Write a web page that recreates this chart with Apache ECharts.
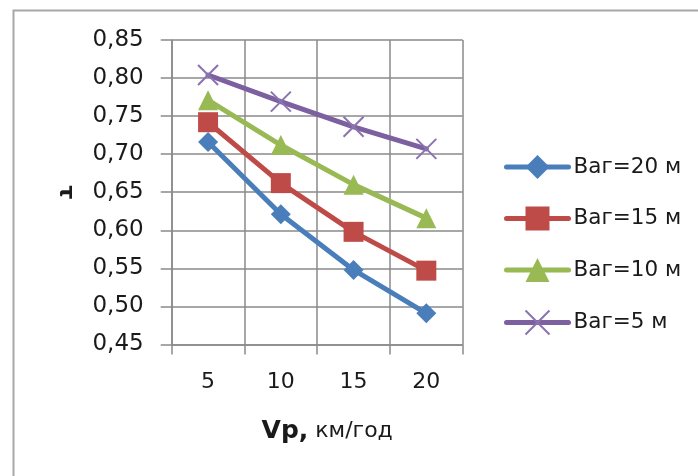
<!DOCTYPE html>
<html>
<head>
<meta charset="utf-8">
<script src="https://cdn.jsdelivr.net/npm/echarts@6/dist/echarts.min.js"></script>
<style>
  html, body { margin: 0; padding: 0; background: #ffffff; }
  #chart { width: 698px; height: 476px; }
</style>
</head>
<body>
<div id="chart"></div>
<script>
// ---- data ----
const categories = ['5', '10', '15', '20'];
const seriesNames = ['Ваг=20 м', 'Ваг=15 м', 'Ваг=10 м', 'Ваг=5 м'];
const vag20 = [0.716, 0.621, 0.548, 0.491];
const vag15 = [0.742, 0.662, 0.598, 0.547];
const vag10 = [0.771, 0.712, 0.660, 0.616];
const vag5  = [0.804, 0.769, 0.736, 0.707];
const yTickLabels = ['0,45', '0,50', '0,55', '0,60', '0,65', '0,70', '0,75', '0,80', '0,85'];
const xTitleMain = 'Vp,';
const xTitleUnit = 'км/год';
const yTitle = 'τ';

const FONT = 'DejaVu Sans';
const TXT = '#1a1a1a';
const GRID = '#8a8a8a';

const chart = echarts.init(document.getElementById('chart'), null, { renderer: 'canvas' });

function mkSeries(name, data, color, symbol, extra) {
  return Object.assign({
    name: name,
    type: 'line',
    data: data,
    symbol: symbol,
    symbolSize: 20,
    showAllSymbol: true,
    lineStyle: { color: color, width: 5, cap: 'round', join: 'round' },
    itemStyle: { color: color, borderWidth: 0 },
    emphasis: { disabled: true },
    animation: false
  }, extra || {});
}

const option = {
  animation: false,
  backgroundColor: '#ffffff',
  graphic: [{
    type: 'rect',
    left: 11, top: 8,
    shape: { width: 800, height: 600 },
    style: { fill: 'none', stroke: '#a8a8a8', lineWidth: 2 },
    z: -10
  }],
  grid: { left: 171.7, right: 235.3, top: 40, bottom: 131.5, containLabel: false },
  legend: {
    orient: 'vertical',
    left: 504,
    top: 155,
    padding: 0,
    itemWidth: 62,
    itemHeight: 30,
    itemGap: 27.5,
    data: seriesNames,
    lineStyle: { width: 5 },
    textStyle: { fontFamily: FONT, fontSize: 21.5, color: TXT },
    selectedMode: false
  },
  xAxis: {
    type: 'category',
    data: categories,
    boundaryGap: true,
    axisLine: { show: true, lineStyle: { color: GRID, width: 1.5 } },
    axisTick: { show: true, length: 10, inside: false, lineStyle: { color: GRID, width: 1.5 } },
    axisLabel: { margin: 27, fontFamily: FONT, fontSize: 22, color: TXT },
    splitLine: { show: true, lineStyle: { color: GRID, width: 1.5 } },
    name: '{a|' + xTitleMain + '}{b| ' + xTitleUnit + '}',
    nameLocation: 'middle',
    nameGap: 74,
    nameTextStyle: {
      padding: [0, 0, 0, 20],
      rich: {
        a: { fontFamily: FONT, fontSize: 25, fontWeight: 'bold', color: TXT },
        b: { fontFamily: FONT, fontSize: 22, color: TXT }
      }
    }
  },
  yAxis: {
    type: 'value',
    min: 0.45,
    max: 0.85,
    interval: 0.05,
    axisLine: { show: true, lineStyle: { color: GRID, width: 1.5 } },
    axisTick: { show: true, length: 11, inside: false, lineStyle: { color: GRID, width: 1.5 } },
    axisLabel: {
      margin: 28,
      fontFamily: FONT, fontSize: 23, color: TXT,
      formatter: function (v) { return yTickLabels[Math.round((v - 0.45) / 0.05)]; }
    },
    splitLine: { show: true, lineStyle: { color: GRID, width: 1.5 } },
    name: yTitle,
    nameLocation: 'middle',
    nameGap: 95,
    nameRotate: -90,
    nameTextStyle: { fontFamily: FONT, fontSize: 22, fontWeight: 'bold', color: TXT }
  },
  series: [
    mkSeries(seriesNames[0], vag20, '#4A7EBB', 'diamond'),
    mkSeries(seriesNames[1], vag15, '#BE4B48', 'rect'),
    mkSeries(seriesNames[2], vag10, '#98B954', 'triangle'),
    mkSeries(seriesNames[3], vag5, '#7D60A0', 'path://M0,0L10,10M10,0L0,10', {
      itemStyle: { color: '#7D60A0', borderColor: '#8b72b0', borderWidth: 2 }
    })
  ]
};
chart.setOption(option);
</script>
</body>
</html>
